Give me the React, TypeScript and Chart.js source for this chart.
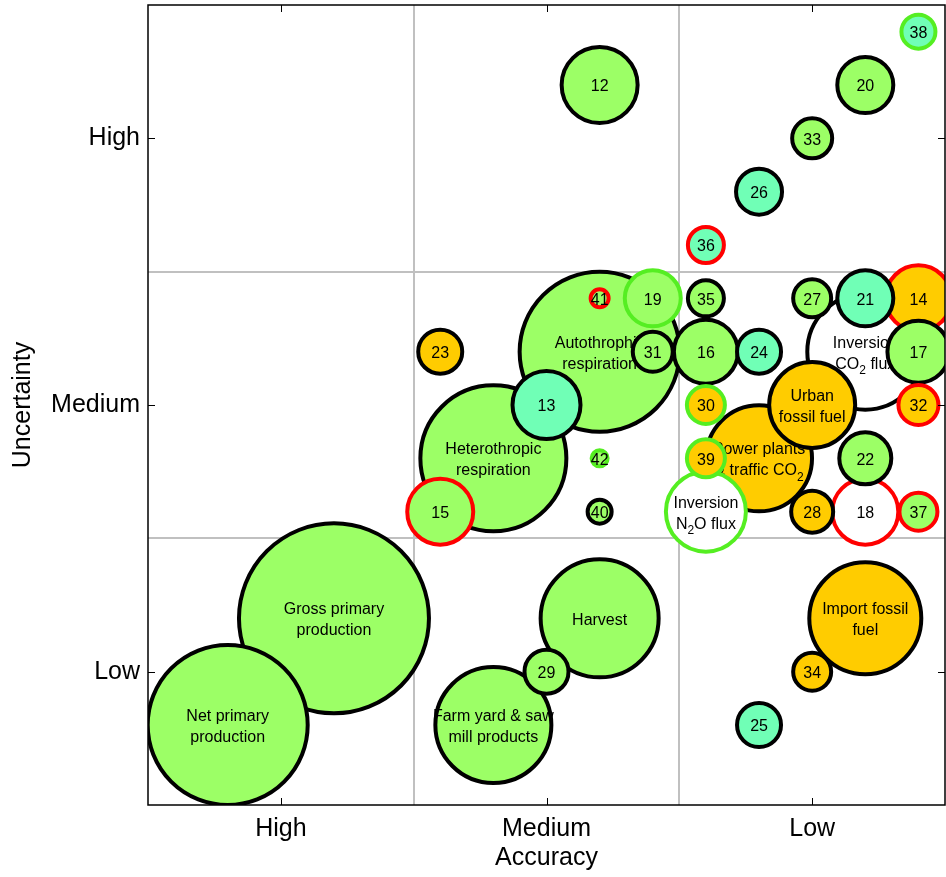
import { useEffect, useRef } from "react";
import { Chart, registerables } from "chart.js";

Chart.register(...registerables);

// Axis tick labels
const accuracyTicks = ["High", "Medium", "Low"];
const uncertaintyTicks = ["Low", "Medium", "High"];

// Bubble data
const bubbleLabels = [
  "Net primary\nproduction",
  "Gross primary\nproduction",
  "Farm yard & saw\nmill products",
  "Harvest",
  "29",
  "25",
  "34",
  "Import fossil\nfuel",
  "15",
  "Heterothropic\nrespiration",
  "13",
  "23",
  "Autothrophic\nrespiration",
  "41",
  "19",
  "31",
  "42",
  "40",
  "35",
  "16",
  "24",
  "36",
  "26",
  "33",
  "20",
  "38",
  "12",
  "30",
  "39",
  "Inversion\nN_2O flux",
  "Power plants\n& traffic CO_2",
  "Urban\nfossil fuel",
  "Inversion\nCO_2 flux",
  "27",
  "21",
  "14",
  "17",
  "32",
  "22",
  "28",
  "18",
  "37",
];
const accuracy = [
  0.8, 1.2, 1.8, 2.2, 2.0, 2.8, 3.0, 3.2, 1.6, 1.8, 2.0, 1.6, 2.2, 2.2, 2.4, 2.4,
  2.2, 2.2, 2.6, 2.6, 2.8, 2.6, 2.8, 3.0, 3.2, 3.4, 2.2, 2.6, 2.6, 2.6, 2.8, 3.0,
  3.2, 3.0, 3.2, 3.4, 3.4, 3.4, 3.2, 3.0, 3.2, 3.4,
];
const uncertainty = [
  0.8, 1.2, 0.8, 1.2, 1.0, 0.8, 1.0, 1.2, 1.6, 1.8, 2.0, 2.2, 2.2, 2.4, 2.4, 2.2,
  1.8, 1.6, 2.4, 2.2, 2.2, 2.6, 2.8, 3.0, 3.2, 3.4, 3.2, 2.0, 1.8, 1.6, 1.8, 2.0,
  2.2, 2.4, 2.4, 2.4, 2.2, 2.0, 1.8, 1.6, 1.6, 1.6,
];
const bubbleSize = [
  80, 95, 58, 59, 22, 22, 19, 56, 33, 73, 34, 22, 80, 9, 28, 20,
  8, 12, 18, 32, 22, 18, 23, 20, 28, 17, 38, 19, 19, 40, 53, 43,
  58, 19, 28, 33, 31, 20, 26, 21, 33, 19,
];
// g = green, o = orange, c = cyan, w = white
const fillKind = [
  "g", "g", "g", "g", "g", "c", "o", "o", "g", "g", "c", "o", "g", "g", "g", "g",
  "g", "g", "g", "g", "c", "c", "c", "g", "g", "c", "g", "o", "o", "w", "o", "o",
  "w", "g", "c", "o", "g", "o", "g", "o", "w", "g",
];
// k = black, r = red, g = green
const edgeKind = [
  "k", "k", "k", "k", "k", "k", "k", "k", "r", "k", "k", "k", "k", "r", "g", "k",
  "g", "k", "k", "k", "k", "r", "k", "k", "k", "g", "k", "g", "g", "g", "k", "k",
  "k", "k", "k", "r", "k", "r", "k", "k", "r", "r",
];

const FILLS: Record<string, string> = {
  g: "#9cff66",
  o: "#ffcc00",
  c: "#70ffb6",
  w: "#ffffff",
};
const EDGES: Record<string, string> = {
  k: "#000000",
  r: "#ff0000",
  g: "#55ee22",
};

const FONT = '"Liberation Sans", Arial, sans-serif';

function drawRich(ctx: CanvasRenderingContext2D, text: string, cx: number, cy: number, size: number) {
  const parts: { t: string; sub: boolean }[] = [];
  let buf = "";
  for (let i = 0; i < text.length; i++) {
    if (text[i] === "_" && i + 1 < text.length) {
      if (buf) parts.push({ t: buf, sub: false });
      buf = "";
      parts.push({ t: text[i + 1], sub: true });
      i++;
    } else buf += text[i];
  }
  if (buf) parts.push({ t: buf, sub: false });
  const mainFont = `${size}px ${FONT}`;
  const subFont = `${Math.round(size * 0.75)}px ${FONT}`;
  let total = 0;
  const widths = parts.map((p) => {
    ctx.font = p.sub ? subFont : mainFont;
    const w = ctx.measureText(p.t).width;
    total += w;
    return w;
  });
  let x = cx - total / 2;
  ctx.textAlign = "left";
  ctx.textBaseline = "middle";
  parts.forEach((p, i) => {
    ctx.font = p.sub ? subFont : mainFont;
    ctx.fillText(p.t, x, p.sub ? cy + size * 0.4 : cy);
    x += widths[i];
  });
}

const labelPlugin = {
  id: "bubbleLabels",
  afterDatasetDraw(chart: any, args: any) {
    const ds = chart.data.datasets[args.index];
    const el = args.meta.data[0];
    if (!el) return;
    const ctx = chart.ctx as CanvasRenderingContext2D;
    const lines = String(ds.label).split("\n");
    const lh = 21;
    ctx.save();
    ctx.fillStyle = "#000";
    const y0 = el.y - ((lines.length - 1) * lh) / 2 + 2;
    lines.forEach((ln, i) => drawRich(ctx, ln, el.x, y0 + i * lh, 16));
    ctx.restore();
  },
};

const framePlugin = {
  id: "frame",
  beforeDatasetsDraw(chart: any) {
    const { ctx, chartArea: a, scales } = chart;
    ctx.save();
    ctx.strokeStyle = "#c0c0c0";
    ctx.lineWidth = 2;
    [1.5, 2.5].forEach((v) => {
      const x = Math.round(scales.x.getPixelForValue(v));
      const y = Math.round(scales.y.getPixelForValue(v));
      ctx.beginPath();
      ctx.moveTo(x, a.top);
      ctx.lineTo(x, a.bottom);
      ctx.moveTo(a.left, y);
      ctx.lineTo(a.right, y);
      ctx.stroke();
    });
    ctx.restore();
  },
  afterDraw(chart: any) {
    const { ctx, chartArea: a, scales } = chart;
    ctx.save();
    ctx.strokeStyle = "#000";
    ctx.lineWidth = 1.5;
    ctx.strokeRect(a.left, a.top, a.right - a.left, a.bottom - a.top);
    ctx.lineWidth = 1;
    const tl = 7;
    [1, 2, 3].forEach((v) => {
      const x = Math.round(scales.x.getPixelForValue(v)) + 0.5;
      const y = Math.round(scales.y.getPixelForValue(v)) + 0.5;
      ctx.beginPath();
      ctx.moveTo(x, a.bottom);
      ctx.lineTo(x, a.bottom - tl);
      ctx.moveTo(x, a.top);
      ctx.lineTo(x, a.top + tl);
      ctx.moveTo(a.left, y);
      ctx.lineTo(a.left + tl, y);
      ctx.moveTo(a.right, y);
      ctx.lineTo(a.right - tl, y);
      ctx.stroke();
    });
    ctx.fillStyle = "#000";
    ctx.font = `25px ${FONT}`;
    ctx.textAlign = "center";
    ctx.textBaseline = "middle";
    ctx.fillText("Accuracy", (a.left + a.right) / 2, 858);
    ctx.translate(23, (a.top + a.bottom) / 2);
    ctx.rotate(-Math.PI / 2);
    ctx.fillText("Uncertainty", 0, 0);
    ctx.restore();
  },
};

export default function App() {
  const ref = useRef<HTMLCanvasElement | null>(null);
  useEffect(() => {
    document.body.style.margin = "0";
    if (!ref.current) return;
    const idx = bubbleLabels.map((_, i) => i).sort((p, q) => bubbleSize[p] - bubbleSize[q]);
    const datasets = idx.map((i) => ({
      label: bubbleLabels[i],
      data: [{ x: accuracy[i], y: uncertainty[i], r: bubbleSize[i] }],
      backgroundColor: FILLS[fillKind[i]],
      borderColor: EDGES[edgeKind[i]],
      borderWidth: 4,
      hoverBorderWidth: 4,
      clip: 0,
    }));
    const chart = new Chart(ref.current, {
      type: "bubble",
      data: { datasets },
      options: {
        responsive: false,
        animation: false,
        devicePixelRatio: 1,
        layout: { autoPadding: false, padding: { top: 5, right: 1, left: 0, bottom: 0 } },
        plugins: { legend: { display: false }, tooltip: { enabled: false } },
        events: [],
        scales: {
          x: {
            type: "linear",
            min: 0.5,
            max: 3.5,
            grid: { display: false, drawTicks: false },
            border: { display: false },
            afterBuildTicks: (s: any) => {
              s.ticks = [1, 2, 3].map((v) => ({ value: v }));
            },
            afterFit: (s: any) => {
              s.height = 72;
              s.paddingLeft = 0;
              s.paddingRight = 0;
            },
            ticks: {
              padding: 9,
              color: "#000",
              font: { size: 25, family: FONT },
              callback: (v: any) => accuracyTicks[Number(v) - 1] ?? "",
            },
          },
          y: {
            type: "linear",
            min: 0.5,
            max: 3.5,
            grid: { display: false, drawTicks: false },
            border: { display: false },
            afterBuildTicks: (s: any) => {
              s.ticks = [1, 2, 3].map((v) => ({ value: v }));
            },
            afterFit: (s: any) => {
              s.width = 148;
              s.paddingTop = 0;
              s.paddingBottom = 0;
            },
            ticks: {
              padding: 8,
              color: "#000",
              font: { size: 25, family: FONT },
              callback: (v: any) => uncertaintyTicks[Number(v) - 1] ?? "",
            },
          },
        },
      },
      plugins: [framePlugin, labelPlugin],
    });
    return () => chart.destroy();
  }, []);
  return (
    <div style={{ width: 946, height: 877 }}>
      <canvas ref={ref} width={946} height={877} style={{ display: "block" }} />
    </div>
  );
}
